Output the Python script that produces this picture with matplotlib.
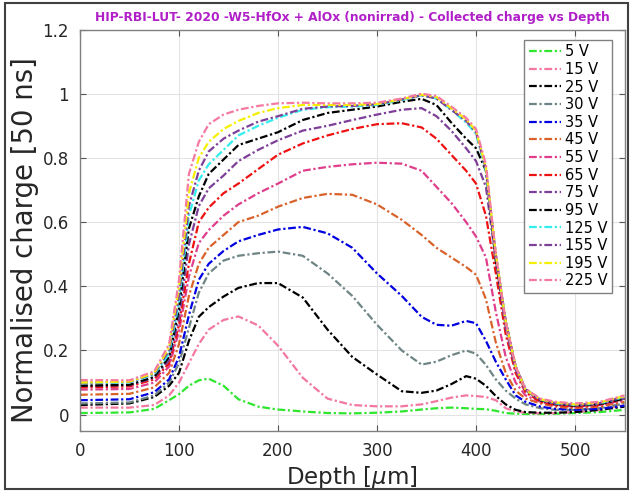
import matplotlib
matplotlib.use('Agg')
import matplotlib.pyplot as plt
from matplotlib.patches import Rectangle

#=======================
# Data

depth = [0, 50, 75, 90, 100, 110, 120, 130, 145, 160, 180, 200, 225, 250, 275, 300,
         325, 345, 360, 375, 390, 400, 410, 420, 430, 440, 450, 465, 480, 500, 525, 550]

q5 = [0.005, 0.007, 0.018, 0.045, 0.064, 0.09, 0.107, 0.112, 0.09, 0.048, 0.025, 0.016, 0.01, 0.005, 0.004, 0.006,
      0.01, 0.016, 0.02, 0.022, 0.02, 0.018, 0.017, 0.012, 0.005, 0.003, 0.002, 0.002, 0.003, 0.005, 0.008, 0.015]
q15 = [0.022, 0.022, 0.03, 0.06, 0.1, 0.16, 0.22, 0.265, 0.295, 0.306, 0.278, 0.215, 0.115, 0.05, 0.03, 0.026,
       0.026, 0.032, 0.042, 0.053, 0.06, 0.058, 0.055, 0.045, 0.02, 0.01, 0.006, 0.004, 0.005, 0.008, 0.015, 0.03]
q25 = [0.03, 0.035, 0.055, 0.09, 0.13, 0.23, 0.305, 0.335, 0.368, 0.395, 0.41, 0.41, 0.365, 0.265, 0.18, 0.125,
       0.073, 0.068, 0.075, 0.095, 0.12, 0.112, 0.09, 0.058, 0.032, 0.015, 0.008, 0.006, 0.006, 0.008, 0.015, 0.025]
q30 = [0.035, 0.038, 0.06, 0.1, 0.16, 0.27, 0.38, 0.44, 0.48, 0.495, 0.503, 0.508, 0.495, 0.44, 0.37, 0.28,
       0.2, 0.156, 0.165, 0.185, 0.2, 0.19, 0.155, 0.11, 0.075, 0.05, 0.032, 0.02, 0.015, 0.015, 0.02, 0.035]
q35 = [0.045, 0.048, 0.07, 0.11, 0.18, 0.31, 0.42, 0.47, 0.51, 0.54, 0.56, 0.577, 0.585, 0.565, 0.52, 0.44,
       0.37, 0.305, 0.28, 0.277, 0.292, 0.285, 0.23, 0.165, 0.11, 0.06, 0.04, 0.025, 0.018, 0.015, 0.018, 0.028]
q45 = [0.062, 0.065, 0.085, 0.13, 0.22, 0.37, 0.47, 0.52, 0.56, 0.6, 0.62, 0.648, 0.675, 0.688, 0.685, 0.655,
       0.607, 0.56, 0.52, 0.49, 0.46, 0.436, 0.36, 0.225, 0.13, 0.075, 0.05, 0.035, 0.025, 0.02, 0.025, 0.04]
q55 = [0.078, 0.08, 0.1, 0.15, 0.26, 0.43, 0.535, 0.575, 0.62, 0.655, 0.69, 0.72, 0.76, 0.772, 0.78, 0.785,
       0.782, 0.76, 0.71, 0.66, 0.6, 0.555, 0.49, 0.32, 0.18, 0.1, 0.06, 0.04, 0.03, 0.025, 0.03, 0.045]
q65 = [0.085, 0.088, 0.11, 0.16, 0.28, 0.47, 0.6, 0.645, 0.69, 0.72, 0.765, 0.81, 0.845, 0.87, 0.89, 0.905,
       0.908, 0.895, 0.86, 0.81, 0.76, 0.72, 0.62, 0.44, 0.25, 0.13, 0.07, 0.04, 0.03, 0.025, 0.03, 0.05]
q75 = [0.09, 0.092, 0.115, 0.17, 0.3, 0.53, 0.65, 0.705, 0.745, 0.79, 0.825, 0.855, 0.885, 0.9, 0.918, 0.935,
       0.95, 0.955, 0.93, 0.885, 0.83, 0.79, 0.71, 0.48, 0.27, 0.14, 0.075, 0.045, 0.035, 0.028, 0.033, 0.05]
q95 = [0.09, 0.093, 0.118, 0.18, 0.33, 0.58, 0.68, 0.75, 0.795, 0.84, 0.86, 0.88, 0.918, 0.94, 0.95, 0.96,
       0.975, 0.984, 0.965, 0.91, 0.86, 0.83, 0.76, 0.48, 0.29, 0.15, 0.08, 0.045, 0.033, 0.028, 0.033, 0.05]
q125 = [0.098, 0.1, 0.125, 0.19, 0.35, 0.62, 0.73, 0.78, 0.825, 0.87, 0.9, 0.925, 0.95, 0.958, 0.96, 0.965,
        0.98, 0.995, 0.985, 0.95, 0.91, 0.875, 0.76, 0.5, 0.29, 0.15, 0.078, 0.047, 0.035, 0.03, 0.035, 0.055]
q155 = [0.1, 0.102, 0.128, 0.2, 0.37, 0.65, 0.76, 0.82, 0.86, 0.885, 0.913, 0.93, 0.953, 0.96, 0.962, 0.967,
        0.982, 0.995, 0.985, 0.95, 0.915, 0.88, 0.765, 0.5, 0.29, 0.15, 0.078, 0.047, 0.036, 0.03, 0.036, 0.056]
q195 = [0.1, 0.103, 0.13, 0.21, 0.4, 0.69, 0.8, 0.85, 0.89, 0.915, 0.94, 0.955, 0.965, 0.965, 0.965, 0.968,
        0.983, 0.997, 0.99, 0.955, 0.92, 0.885, 0.77, 0.5, 0.29, 0.15, 0.078, 0.048, 0.038, 0.032, 0.038, 0.058]
q225 = [0.108, 0.107, 0.135, 0.22, 0.42, 0.75, 0.85, 0.905, 0.935, 0.95, 0.962, 0.97, 0.972, 0.97, 0.97, 0.972,
        0.985, 1.0, 0.993, 0.96, 0.925, 0.89, 0.78, 0.5, 0.29, 0.15, 0.08, 0.05, 0.04, 0.035, 0.04, 0.06]

labels = ['5 V', '15 V', '25 V', '30 V', '35 V', '45 V', '55 V', '65 V',
          '75 V', '95 V', '125 V', '155 V', '195 V', '225 V']
series = [q5, q15, q25, q30, q35, q45, q55, q65, q75, q95, q125, q155, q195, q225]
colors = ['#2ee62e', '#f2789f', '#000000', '#6f8585', '#0000e0', '#d9622b', '#de3e8b',
          '#ee1111', '#7e3f98', '#000000', '#33eeee', '#7e3f98', '#f5f000', '#f57aa0']

#=======================
# Plot

fig = plt.figure(figsize=(6.30, 4.91), dpi=100)
ax = fig.add_axes([0.127, 0.1228, 0.8643, 0.8171])

for vals, lab, col in zip(series, labels, colors):
    ax.plot(depth, vals, color=col, lw=1.6, linestyle=(0, (3.5, 1.2, 1, 1.2)), label=lab)

ax.set_xlim(0, 550)
ax.set_ylim(-0.05, 1.2)
ax.set_xticks([0, 100, 200, 300, 400, 500])
ax.set_yticks([0, 0.2, 0.4, 0.6, 0.8, 1.0, 1.2])
ax.set_yticklabels(['0', '0.2', '0.4', '0.6', '0.8', '1', '1.2'])
ax.tick_params(direction='in', top=True, right=True, length=4, width=0.8,
               color='#555555', labelsize=12, labelcolor='#262626', pad=8)
ax.grid(True, color='#e3e3e3', lw=0.8)
ax.set_axisbelow(True)
for sp in ax.spines.values():
    sp.set_color('#808080')
    sp.set_linewidth(1.0)

ax.set_xlabel(r'Depth [$\mu$m]', fontsize=16.5, color='#262626', labelpad=3)
ax.set_ylabel('Normalised charge [50 ns]', fontsize=19.8, color='#262626')
ax.yaxis.set_label_coords(-0.075, 0.475)
ax.set_title('HIP-RBI-LUT- 2020 -W5-HfOx + AlOx (nonirrad) - Collected charge vs Depth',
             fontsize=8.8, fontweight='bold', color='#b01fc8', pad=6)

leg = ax.legend(loc='upper right', fontsize=10.5, handlelength=2.2, handletextpad=0.3,
                labelspacing=0.18, borderpad=0.3, borderaxespad=0, fancybox=False, framealpha=1,
                edgecolor='#808080', bbox_to_anchor=(0.977, 0.974))
leg.get_frame().set_linewidth(1.0)

# outer border round the whole picture
fig.patches.append(Rectangle((5 / 630, 2 / 491), 623 / 630, 486 / 491, transform=fig.transFigure,
                             fill=False, edgecolor='#404040', lw=1.5))

fig.savefig('out.png', dpi=100)
